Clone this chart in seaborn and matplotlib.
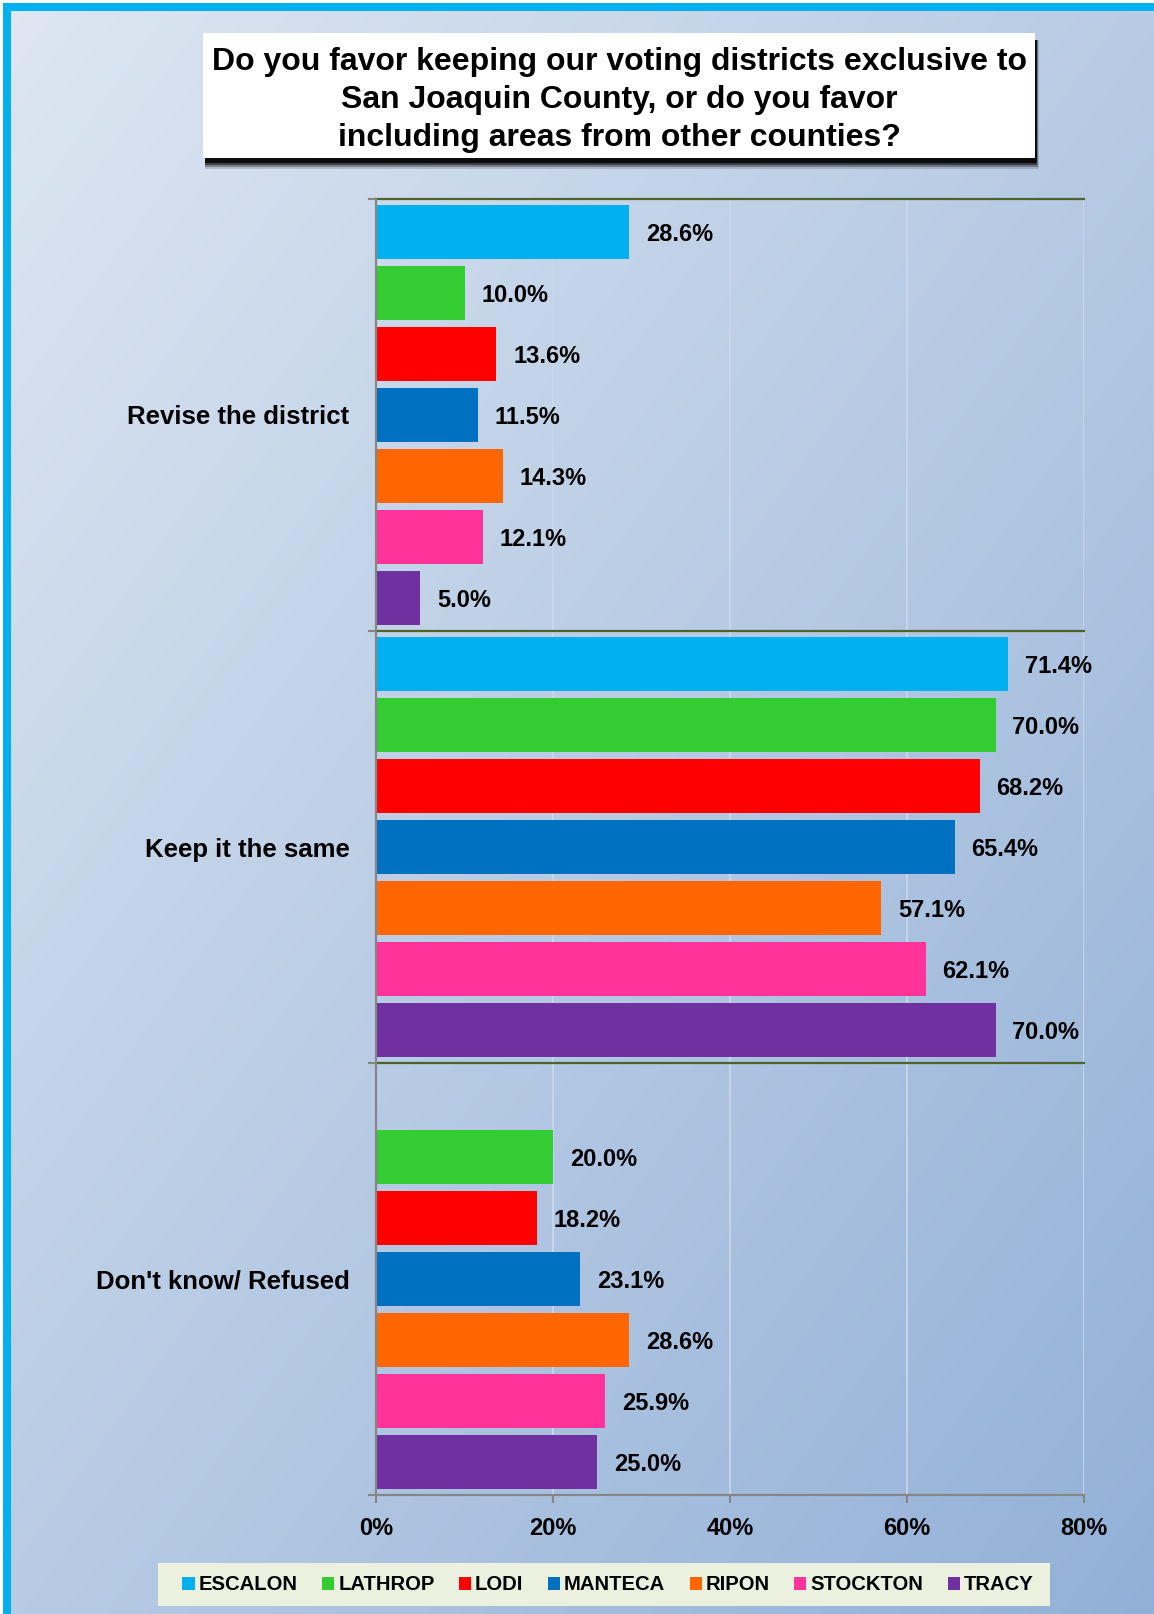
import numpy as np
import pandas as pd
import seaborn as sns
import matplotlib.pyplot as plt
from matplotlib.patches import Rectangle, Patch

# 数据
answers = ["Revise the district", "Keep it the same", "Don't know/ Refused"]
cities = ["ESCALON", "LATHROP", "LODI", "MANTECA", "RIPON", "STOCKTON", "TRACY"]
city_colors = ["#00B0F0", "#33CC33", "#FF0000", "#0070C0", "#FF6600", "#FF3399", "#7030A0"]
revise = [28.6, 10.0, 13.6, 11.5, 14.3, 12.1, 5.0]
keep = [71.4, 70.0, 68.2, 65.4, 57.1, 62.1, 70.0]
dont_know = [np.nan, 20.0, 18.2, 23.1, 28.6, 25.9, 25.0]
x_ticks = [0, 20, 40, 60, 80]
title_lines = ["Do you favor keeping our voting districts exclusive to",
               "San Joaquin County, or do you favor",
               "including areas from other counties?"]

rows = []
for ans, vals in zip(answers, [revise, keep, dont_know]):
    for city, v in zip(cities, vals):
        rows.append({"answer": ans, "city": city, "pct": v})
df = pd.DataFrame(rows)

plt.rcParams['font.family'] = ['Liberation Sans', 'DejaVu Sans']
plt.rcParams['font.weight'] = 'bold'

W, H = 1154, 1614
fig = plt.figure(figsize=(W / 100, H / 100), dpi=100)


def frect(x0, y0, x1, y1, **kw):
    # 像素坐标 -> figure 坐标
    r = Rectangle((x0 / W, 1 - y1 / H), (x1 - x0) / W, (y1 - y0) / H,
                  transform=fig.transFigure, **kw)
    fig.add_artist(r)
    return r


# 背景渐变
bg = fig.add_axes([0, 0, 1, 1], zorder=-10)
yy, xx = np.mgrid[0:1:300j, 0:1:300j]
t = (xx + yy) / 2
c0 = np.array([222, 231, 242]) / 255
c1 = np.array([146, 176, 215]) / 255
bg.imshow(c0 + (c1 - c0) * t[..., None], extent=[0, 1, 0, 1], origin='upper', aspect='auto')
bg.axis('off')

# 边框
frect(0, 0, W, 3, color='white', lw=0)
frect(0, 0, 3, H, color='white', lw=0)
frect(3, 3, 11, H, color='#00B0F0', lw=0)
frect(3, 3, W, 11, color='#00B0F0', lw=0)

# 标题框 + 阴影
for off, a in [(11, 0.15), (9, 0.3), (7, 0.5), (5, 0.8)]:
    frect(205, 40, 1035 + off / 3, 158 + off, color='black', alpha=a, lw=0)
frect(203, 33, 1035, 158, color='white', lw=0)
for i, line in enumerate(title_lines):
    fig.text(619 / W, 1 - (62 + i * 38) / H, line, ha='center', va='center',
             fontsize=23, fontweight='bold', color='black')

# 主图
ax = fig.add_axes([376 / W, 1 - 1495 / H, (1084 - 376) / W, (1495 - 199) / H])
ax.patch.set_alpha(0)
sns.barplot(data=df, y="answer", x="pct", hue="city", order=answers, hue_order=cities,
            palette=city_colors, orient="h", width=0.99, gap=0.12, errorbar=None,
            saturation=1, legend=False, ax=ax, zorder=2)

ax.set_xlim(0, 80)
ax.set_ylim(2.5, -0.5)
ax.set_xlabel("")
ax.set_ylabel("")
ax.set_axisbelow(True)
ax.xaxis.grid(True, color='#C9D7EB', lw=1.3)
ax.yaxis.grid(False)

for y in [-0.5, 0.5, 1.5]:
    ax.axhline(y, color='#4F6228', lw=1.6, zorder=3, clip_on=False)

for s in ['top', 'right']:
    ax.spines[s].set_visible(False)
for s in ['left', 'bottom']:
    ax.spines[s].set_color('#868686')
    ax.spines[s].set_linewidth(1.6)
    ax.spines[s].set_zorder(4)

ax.set_xticks(x_ticks)
ax.set_xticklabels([f"{v}%" for v in x_ticks], fontsize=17, fontweight='bold')
ax.tick_params(axis='x', length=6, width=1.5, color='#868686', pad=10)
ax.set_yticks(range(len(answers)))
ax.set_yticklabels(answers, fontsize=18.5, fontweight='bold')
ax.tick_params(axis='y', which='major', length=0, pad=19)
ax.set_yticks([-0.5, 0.5, 1.5, 2.5], minor=True)
ax.tick_params(axis='y', which='minor', length=6, width=1.5, color='#868686')

# 数据标签
for cont in ax.containers:
    for bar in cont:
        w = bar.get_width()
        if np.isnan(w) or w == 0:
            continue
        ax.annotate(f"{w:.1f}%", (w, bar.get_y() + bar.get_height() / 2),
                    xytext=(12, 0), textcoords='offset points', ha='left',
                    va='center_baseline', fontsize=17, fontweight='bold',
                    color='black', zorder=5)

# 图例
frect(158, 1563, 1050, 1606, color='#EBF1DE', lw=0)
handles = [Patch(facecolor=c, edgecolor='none', label=n) for n, c in zip(cities, city_colors)]
fig.legend(handles=handles, loc='center', bbox_to_anchor=(608 / W, 1 - 1585 / H),
           ncol=7, frameon=False, handlelength=0.6, handleheight=0.65,
           handletextpad=0.2, columnspacing=1.2, prop={'weight': 'bold', 'size': 14.6})

fig.savefig('out.png', dpi=100)
